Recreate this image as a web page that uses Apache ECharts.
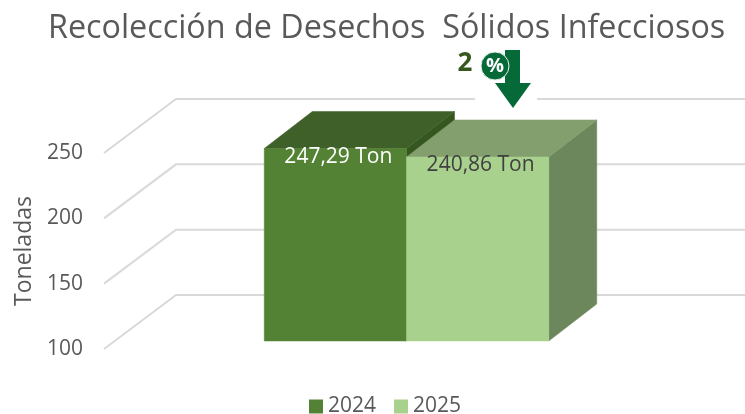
<!DOCTYPE html>
<html>
<head>
<meta charset="utf-8">
<style>html,body{margin:0;padding:0;background:#fff}#main{width:745px;height:414px}</style>
<script src="https://cdn.jsdelivr.net/npm/echarts@6/dist/echarts.min.js"></script>
</head>
<body>
<div id="main"></div>
<script>
const categories = ['Recoleccion']
const years = ['2024', '2025']
const toneladas = [247.29, 240.86]
const yTicks = [100, 150, 200, 250]
const frontColors = ['#548235', '#A9D18E']
const topColors = ['#3F6028', '#829F6D']
const sideColors = ['#35561F', '#6C875C']
const labelColors = ['#ffffff', '#404040']
const FONT = '"Open Sans", sans-serif'

const myChart = echarts.init(document.getElementById('main'))

// back wall offset
const wallX = 72, wallY = -54
// bar offset from the front plane + bar depth
const shiftX = 18, shiftY = -8, depthX = 48, depthY = -37

const gridLines = (params, api) => {
    const p = api.coord([0, api.value(1)])
    const left = params.coordSys.x
    const lineStyle = { stroke: '#D9D9D9', lineWidth: 2 }
    return {
        type: 'polyline',
        shape: { points: [[left, p[1]], [left + wallX, p[1] + wallY], [745, p[1] + wallY]] },
        style: { fill: null, ...lineStyle }
    }
}

const barItem = (i) => (params, api) => {
    const c = api.coord([0, api.value(1)])
    const base = api.coord([0, yTicks[0]])
    const w = api.size([1, 0])[0] / 4
    const x0 = c[0] + (i - 1) * w + shiftX
    const x1 = x0 + w
    const top = c[1] + shiftY
    const bottom = base[1] + shiftY
    const poly = (points, fill) => ({
        type: 'polygon',
        shape: { points },
        style: { fill, stroke: fill, lineWidth: 0.5 }
    })
    return {
        type: 'group',
        children: [
            poly([[x1, top], [x1 + depthX, top + depthY], [x1 + depthX, bottom + depthY], [x1, bottom]], sideColors[i]),
            poly([[x0, top], [x0 + depthX, top + depthY], [x1 + depthX, top + depthY], [x1, top]], topColors[i]),
            poly([[x0, top], [x1, top], [x1, bottom], [x0, bottom]], frontColors[i]),
            {
                type: 'text',
                style: {
                    x: (x0 + x1) / 2 + 3,
                    y: top + 8,
                    text: api.value(1).toFixed(2).replace('.', ',') + ' Ton',
                    fill: labelColors[i],
                    font: '21px ' + FONT,
                    align: 'center',
                    verticalAlign: 'middle'
                }
            }
        ]
    }
}

myChart.setOption({
    animation: false,
    title: {
        text: 'Recolección de Desechos  Sólidos Infecciosos',
        left: 43,
        top: 8,
        textStyle: { color: '#595959', fontSize: 32.3, fontWeight: 'normal', fontFamily: FONT }
    },
    legend: {
        data: years,
        left: 304,
        top: 391,
        icon: 'rect',
        itemWidth: 14,
        itemHeight: 14,
        itemGap: 18,
        textStyle: { color: '#595959', fontSize: 21, fontFamily: FONT }
    },
    grid: { left: 104, right: 72, top: 153, bottom: 65, outerBoundsMode: 'none' },
    xAxis: {
        type: 'category',
        data: categories,
        axisLine: { show: false },
        axisTick: { show: false },
        axisLabel: { show: false }
    },
    yAxis: {
        type: 'value',
        min: 100,
        max: 250,
        interval: 50,
        name: 'Toneladas',
        nameLocation: 'middle',
        nameGap: 68,
        nameTextStyle: { color: '#595959', fontSize: 23, fontFamily: FONT },
        axisLine: { show: false },
        axisTick: { show: false },
        splitLine: { show: false },
        axisLabel: { color: '#595959', fontSize: 21, fontFamily: FONT, margin: 21 }
    },
    graphic: [
        { type: 'rect', z: 50, shape: { x: 475, y: 92, width: 62, height: 14 }, style: { fill: '#fff' } },
        { type: 'polygon', z: 51, shape: { points: [[505, 50], [520, 50], [520, 83], [531, 83], [513, 108], [495, 83], [505, 83]] }, style: { fill: '#056A38' } },
        { type: 'circle', z: 52, shape: { cx: 495, cy: 66, r: 14 }, style: { fill: '#056A38', stroke: '#E6F0EA', lineWidth: 1 } },
        { type: 'text', z: 53, style: { x: 495, y: 66, text: '%', fill: '#fff', font: 'bold 20px ' + FONT, align: 'center', verticalAlign: 'middle' } },
        { type: 'text', z: 53, style: { x: 465, y: 64, text: '2', fill: '#38571F', font: 'bold 26px ' + FONT, align: 'center', verticalAlign: 'middle' } }
    ],
    series: [
        {
            type: 'custom',
            name: 'grid',
            silent: true,
            clip: false,
            renderItem: gridLines,
            encode: { x: 0, y: 1 },
            data: yTicks.map(t => [0, t]),
            z: 1
        },
        ...years.map((year, i) => ({
            type: 'custom',
            name: year,
            clip: false,
            renderItem: barItem(i),
            encode: { x: 0, y: 1 },
            itemStyle: { color: frontColors[i] },
            data: [[0, toneladas[i]]],
            z: 2 + i
        }))
    ]
})
</script>
</body>
</html>
